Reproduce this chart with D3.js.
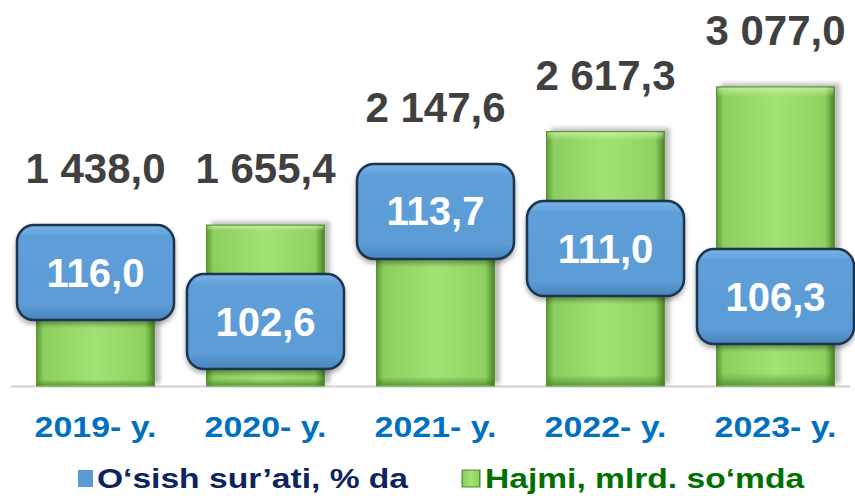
<!DOCTYPE html>
<html>
<head>
<meta charset="utf-8">
<script src="https://cdn.jsdelivr.net/npm/d3@7"></script>
<style>
  body { margin: 0; background: #fff; }
  text { font-family: "Liberation Sans", Arial, sans-serif; font-weight: bold; }
</style>
</head>
<body>
<div class="chart"></div>
<script>
// chart data
var years = ["2019- y.", "2020- y.", "2021- y.", "2022- y.", "2023- y."];
var volume = [1438.0, 1655.4, 2147.6, 2617.3, 3077.0];      // Hajmi, mlrd. so'mda
var growthRate = [116.0, 102.6, 113.7, 111.0, 106.3];       // O'sish sur'ati, % da
// level (in volume units) where each rate label box sits
var rateAnchor = [1167, 663, 1795, 1414, 920];
var legendLabels = ["O\u2018sish sur\u2019ati, % da", "Hajmi, mlrd. so\u2018mda"];

var svgWidth = 855;
var svgHeight = 496;
var baseY = 386;

var fmt = function(v) {
  var s = d3.format(",.1f")(v);
  return s.replace(/,/g, " ").replace(".", ",");
};

var svg = d3.select(".chart")
  .append("svg")
  .attr("width", svgWidth)
  .attr("height", svgHeight);

var defs = svg.append("defs");

// green bar gradient (bevel look)
var gBar = defs.append("linearGradient").attr("id", "barGrad")
  .attr("x1", "0").attr("x2", "1").attr("y1", "0").attr("y2", "0");
gBar.append("stop").attr("offset", "0%").attr("stop-color", "#5c9c34");
gBar.append("stop").attr("offset", "6%").attr("stop-color", "#8ccf5e");
gBar.append("stop").attr("offset", "50%").attr("stop-color", "#a2e274");
gBar.append("stop").attr("offset", "92%").attr("stop-color", "#8fd160");
gBar.append("stop").attr("offset", "100%").attr("stop-color", "#4b8527");

var gBarV = defs.append("linearGradient").attr("id", "barShade")
  .attr("x1", "0").attr("x2", "0").attr("y1", "0").attr("y2", "1");
gBarV.append("stop").attr("offset", "0%").attr("stop-color", "#d8f7c0").attr("stop-opacity", 0.6);
gBarV.append("stop").attr("offset", "3%").attr("stop-color", "#d8f7c0").attr("stop-opacity", 0);
gBarV.append("stop").attr("offset", "96%").attr("stop-color", "#3f7a1e").attr("stop-opacity", 0);
gBarV.append("stop").attr("offset", "100%").attr("stop-color", "#3f7a1e").attr("stop-opacity", 0.6);

// blue box gradient
var gBox = defs.append("linearGradient").attr("id", "boxGrad")
  .attr("x1", "0").attr("x2", "0").attr("y1", "0").attr("y2", "1");
gBox.append("stop").attr("offset", "0%").attr("stop-color", "#7ab4e8");
gBox.append("stop").attr("offset", "12%").attr("stop-color", "#5f9fd9");
gBox.append("stop").attr("offset", "85%").attr("stop-color", "#5b9bd5");
gBox.append("stop").attr("offset", "100%").attr("stop-color", "#4a84bb");

var shadow = defs.append("filter").attr("id", "barShadow")
  .attr("x", "-20%").attr("y", "-20%").attr("width", "140%").attr("height", "140%");
shadow.append("feDropShadow").attr("dx", 5).attr("dy", -3)
  .attr("stdDeviation", 2).attr("flood-color", "#888").attr("flood-opacity", 0.55);

var boxShadow = defs.append("filter").attr("id", "boxShadow")
  .attr("x", "-20%").attr("y", "-20%").attr("width", "140%").attr("height", "150%");
boxShadow.append("feDropShadow").attr("dx", 0).attr("dy", 3)
  .attr("stdDeviation", 2.5).attr("flood-color", "#000").attr("flood-opacity", 0.35);

// scales
var x = d3.scaleBand()
  .domain(years)
  .range([10.5, 860.5])
  .paddingInner(0.306)
  .paddingOuter(0.153);

var y = d3.scaleLinear()
  .domain([0, 3970])
  .range([baseY, 0]);

var boxW = 157, boxH = 95;

// baseline
svg.append("line")
  .attr("x1", 11).attr("x2", 850)
  .attr("y1", baseY + 0.5).attr("y2", baseY + 0.5)
  .attr("stroke", "#d0d0d0").attr("stroke-width", 2);

// bars
var bars = svg.append("g").selectAll("g")
  .data(years)
  .enter()
  .append("g");

bars.append("rect")
  .attr("x", d => x(d))
  .attr("y", (d, i) => y(volume[i]))
  .attr("width", x.bandwidth())
  .attr("height", (d, i) => baseY - y(volume[i]))
  .attr("fill", "url(#barGrad)")
  .attr("stroke", "#5a9534")
  .attr("stroke-width", 1)
  .attr("filter", "url(#barShadow)");

bars.append("rect")
  .attr("x", d => x(d) + 1)
  .attr("y", (d, i) => y(volume[i]) + 1)
  .attr("width", x.bandwidth() - 2)
  .attr("height", (d, i) => baseY - y(volume[i]) - 2)
  .attr("fill", "url(#barShade)");

// value labels above bars
svg.append("g").selectAll("text")
  .data(years)
  .enter()
  .append("text")
  .attr("x", d => x(d) + x.bandwidth() / 2)
  .attr("y", (d, i) => Math.min(y(volume[i]), y(rateAnchor[i]) - boxH / 2) - 42)
  .attr("text-anchor", "middle")
  .attr("font-size", 42)
  .attr("fill", "#404040")
  .text((d, i) => fmt(volume[i]));

// growth rate boxes
var boxes = svg.append("g").selectAll("g")
  .data(years)
  .enter()
  .append("g")
  .attr("transform", (d, i) => `translate(${x(d) + x.bandwidth() / 2}, ${y(rateAnchor[i])})`);

boxes.append("rect")
  .attr("x", -boxW / 2)
  .attr("y", -boxH / 2)
  .attr("width", boxW)
  .attr("height", boxH)
  .attr("rx", 17)
  .attr("fill", "url(#boxGrad)")
  .attr("stroke", "#1c3550")
  .attr("stroke-width", 2.5)
  .attr("filter", "url(#boxShadow)");

boxes.append("text")
  .attr("y", 14)
  .attr("text-anchor", "middle")
  .attr("font-size", 40)
  .attr("fill", "#ffffff")
  .text((d, i) => d3.format(".1f")(growthRate[i]).replace(".", ","));

// x axis labels
var xAxis = d3.axisBottom(x).tickSize(0).tickPadding(0);
var axisG = svg.append("g")
  .attr("transform", `translate(0, 437)`)
  .call(xAxis);
axisG.select(".domain").remove();
axisG.selectAll("text")
  .attr("y", 0)
  .attr("dy", 0)
  .attr("font-size", 30)
  .attr("font-family", null)
  .attr("fill", "#0070c0")
  .attr("transform", "scale(1.13,1)");

// legend
var legend = svg.append("g");
legend.append("rect")
  .attr("x", 78).attr("y", 470).attr("width", 15).attr("height", 17)
  .attr("fill", "#5b9bd5");
legend.append("text")
  .attr("transform", "translate(97, 488) scale(1.2,1)")
  .attr("font-size", 28)
  .attr("fill", "#0d2461")
  .text(legendLabels[0]);

legend.append("rect")
  .attr("x", 462).attr("y", 470).attr("width", 18).attr("height", 17)
  .attr("fill", "url(#barGrad)")
  .attr("stroke", "#4e8a2a");
legend.append("text")
  .attr("transform", "translate(485, 488) scale(1.2,1)")
  .attr("font-size", 28)
  .attr("fill", "#007000")
  .text(legendLabels[1]);
</script>
</body>
</html>
